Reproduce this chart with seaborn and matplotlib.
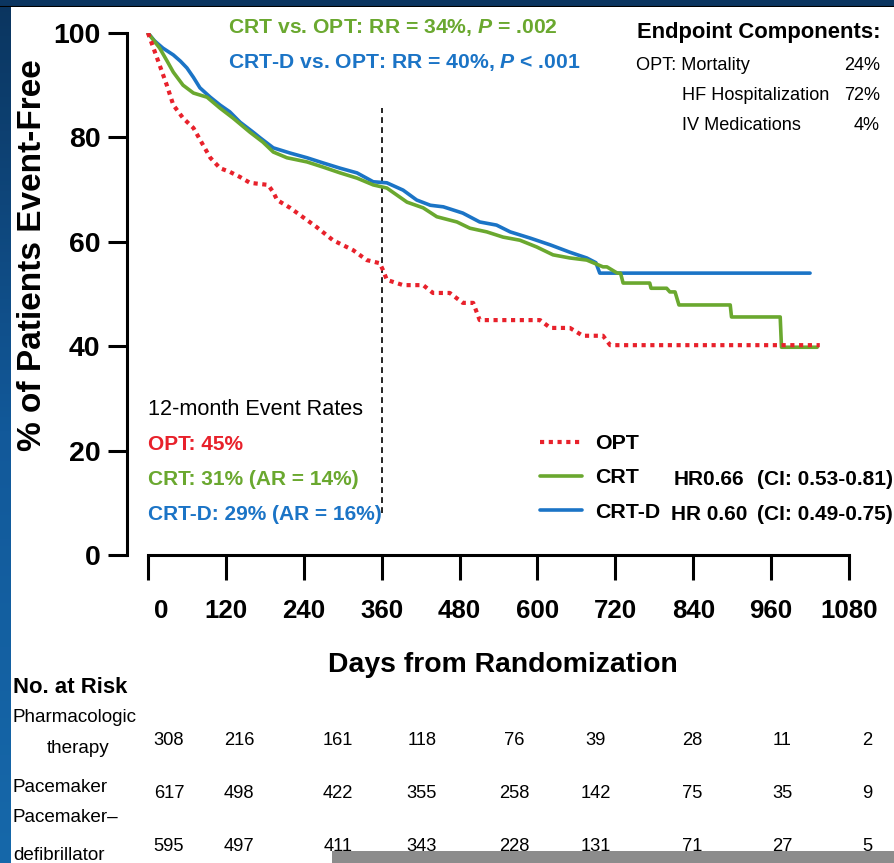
import numpy as np
import pandas as pd
import matplotlib
matplotlib.use("Agg")
import matplotlib.pyplot as plt
import seaborn as sns
from matplotlib.patches import Rectangle
from matplotlib.transforms import ScaledTranslation
from matplotlib.colors import LinearSegmentedColormap

# ---------------- data ----------------
opt_days = [0, 14, 29, 39, 54, 70, 85, 96, 111, 126, 142, 157, 185, 193, 199, 219, 260, 285,
            316, 337, 357, 362, 368, 393, 424, 439, 465, 485, 501, 511, 604, 620, 650, 670,
            701, 712, 1035]
opt_surv = [100, 95.2, 90.0, 86.2, 83.7, 81.8, 78.5, 76.1, 74.1, 73.4, 72.4, 71.3, 70.9, 69.5,
            68.0, 66.5, 62.8, 60.3, 58.4, 56.5, 55.9, 54.6, 52.7, 51.7, 51.7, 50.2, 50.2, 48.3,
            48.3, 45.0, 45.0, 43.5, 43.5, 42.0, 42.0, 40.2, 40.2]

crt_days = [0, 18, 30, 39, 54, 70, 91, 111, 131, 157, 177, 193, 214, 245, 270, 296, 322, 347,
            368, 399, 424, 445, 476, 496, 522, 547, 573, 599, 624, 650, 676, 701, 707, 723,
            728, 732, 773, 775, 799, 804, 812, 818, 897, 899, 974, 976, 1031]
crt_surv = [100, 97.1, 94.5, 92.5, 90.0, 88.5, 87.7, 85.6, 83.7, 81.0, 79.1, 77.2, 76.1, 75.3,
            74.3, 73.2, 72.2, 70.9, 70.3, 67.6, 66.5, 64.8, 63.8, 62.6, 61.9, 60.9, 60.3, 59.0,
            57.5, 56.9, 56.5, 55.2, 55.2, 54.0, 54.0, 52.1, 52.1, 51.1, 51.1, 50.4, 50.4, 47.9,
            47.9, 45.6, 45.6, 39.8, 39.8]

crtd_days = [0, 10, 23, 39, 50, 60, 70, 80, 96, 111, 126, 142, 162, 173, 193, 219, 245, 270,
             296, 322, 347, 368, 393, 414, 435, 455, 485, 511, 537, 558, 589, 620, 650, 676,
             690, 696, 1020]
crtd_surv = [100, 98.5, 97.1, 95.8, 94.6, 93.3, 91.5, 89.5, 87.7, 86.2, 84.9, 82.9, 81.0, 79.9,
             78.0, 77.0, 76.1, 75.1, 74.1, 73.2, 71.5, 71.3, 69.9, 68.0, 67.0, 66.7, 65.5, 63.8,
             63.2, 61.9, 60.7, 59.4, 58.0, 56.9, 56.0, 54.0, 54.0]

x_ticks = [0, 120, 240, 360, 480, 600, 720, 840, 960, 1080]
y_ticks = [0, 20, 40, 60, 80, 100]
landmark_day = 360
landmark_span = (8, 85.6)

risk_labels = ["Pharmacologic", "therapy", "Pacemaker", "Pacemaker–", "defibrillator"]
risk_opt = [308, 216, 161, 118, 76, 39, 28, 11, 2]
risk_crt = [617, 498, 422, 355, 258, 142, 75, 35, 9]
risk_crtd = [595, 497, 411, 343, 228, 131, 71, 27, 5]

series_names = ["OPT", "CRT", "CRT-D"]
hr_text = ["", "HR0.66", "HR 0.60"]
ci_text = ["", "(CI: 0.53-0.81)", "(CI: 0.49-0.75)"]

RED = "#e8212b"
GREEN = "#6aa82f"
BLUE = "#1b74c6"

# ---------------- style ----------------
sns.set_theme(style="ticks")
FONT = ["Liberation Sans", "DejaVu Sans"]
plt.rcParams["font.family"] = FONT
plt.rcParams["mathtext.fontset"] = "custom"
plt.rcParams["mathtext.it"] = "Liberation Sans:italic:bold"
plt.rcParams["mathtext.rm"] = "Liberation Sans:bold"
plt.rcParams["text.color"] = "black"

W, H = 895, 863
fig = plt.figure(figsize=(W / 100, H / 100), dpi=100, facecolor="white")


def fx(x):
    return x / W


def fy(y):
    return 1 - y / H


def ftext(x, y, s, **kw):
    kw.setdefault("va", "baseline")
    return fig.text(fx(x), fy(y), s, **kw)


# axes: y spine at px 127, x=0 at px 148 ; y 0 at px 555, 100 at px 33
ppd = 701 / 1080
xl = (127 - 148) / ppd
xr = 1100
ax = fig.add_axes([fx(127), fy(555), (xr - xl) * ppd / W, 522 / H])
ax.set_xlim(xl, xr)
ax.set_ylim(0, 100)
ax.patch.set_alpha(0)

# curves
df_crtd = pd.DataFrame({"day": crtd_days, "surv": crtd_surv})
df_crt = pd.DataFrame({"day": crt_days, "surv": crt_surv})
df_opt = pd.DataFrame({"day": opt_days, "surv": opt_surv})

sns.lineplot(data=df_crtd, x="day", y="surv", ax=ax, color=BLUE, linewidth=2.6,
             estimator=None, sort=False, errorbar=None, zorder=3)
sns.lineplot(data=df_crt, x="day", y="surv", ax=ax, color=GREEN, linewidth=2.6,
             estimator=None, sort=False, errorbar=None, zorder=4)
sns.lineplot(data=df_opt, x="day", y="surv", ax=ax, color=RED, linewidth=3.0,
             linestyle=(0, (1, 1.1)), estimator=None, sort=False, errorbar=None, zorder=5)
h_crtd, h_crt, h_opt = ax.get_lines()[:3]

ax.vlines(landmark_day, *landmark_span, colors="black", linewidth=1.2,
          linestyles=(0, (3.5, 2.5)), zorder=2)

# axes styling
for s in ["top", "right"]:
    ax.spines[s].set_visible(False)
for s in ["left", "bottom"]:
    ax.spines[s].set_linewidth(2.2)
    ax.spines[s].set_color("black")
ax.spines["left"].set_bounds(0, 100)
ax.spines["bottom"].set_bounds(0, 1080)
ax.set_xticks(x_ticks)
ax.set_xticklabels([str(t) for t in x_ticks], fontsize=18.6, fontweight="bold")
ax.set_yticks(y_ticks)
ax.set_yticklabels([str(t) for t in y_ticks], fontsize=20.5, fontweight="bold")
ax.tick_params(axis="x", length=18, width=2.2, pad=14, direction="out", color="black",
               labelcolor="black", bottom=True)
ax.tick_params(axis="y", length=13.7, width=2.2, pad=5.5, direction="out", color="black",
               labelcolor="black", left=True)
ax.set_xlabel("")
ax.set_ylabel("")
lbl0 = ax.get_xticklabels()[0]
lbl0.set_transform(lbl0.get_transform() + ScaledTranslation(13 / 100, 0, fig.dpi_scale_trans))

# axis titles
fig.text(fx(33), fy(255), "% of Patients Event-Free", rotation=90, ha="center", va="center",
         fontsize=24, fontweight="bold")
ftext(328, 672, "Days from Randomization", fontsize=20.4, fontweight="bold")

# top statistics
ftext(228, 33, r"CRT vs. OPT: RR = 34%, $\mathit{P}$ = .002", fontsize=15.2,
      fontweight="bold", color=GREEN)
ftext(228, 68, r"CRT-D vs. OPT: RR = 40%, $\mathit{P}$ < .001", fontsize=15.2,
      fontweight="bold", color=BLUE)

# endpoint components
ftext(637, 38, "Endpoint Components:", fontsize=15.8, fontweight="bold")
ftext(636, 70, "OPT: Mortality", fontsize=13.1)
ftext(880, 70, "24%", fontsize=13.1, ha="right")
ftext(682, 100, "HF Hospitalization", fontsize=13.1)
ftext(880, 100, "72%", fontsize=13.1, ha="right")
ftext(682, 130, "IV Medications", fontsize=13.1)
ftext(880, 130, "4%", fontsize=13.1, ha="right")

# 12-month event rates
ftext(148, 415, "12-month Event Rates", fontsize=15.6)
ftext(148, 450, "OPT: 45%", fontsize=15, fontweight="bold", color=RED)
ftext(148, 485, "CRT: 31% (AR = 14%)", fontsize=15, fontweight="bold", color=GREEN)
ftext(148, 520, "CRT-D: 29% (AR = 16%)", fontsize=15, fontweight="bold", color=BLUE)

# legend
ax.legend(handles=[h_opt, h_crt, h_crtd], labels=series_names, loc="upper left",
          bbox_to_anchor=(fx(540), fy(434)), bbox_transform=fig.transFigure,
          frameon=False, prop={"weight": "bold", "size": 15.4},
          handlelength=1.96, handletextpad=0.6, labelspacing=0.72, borderpad=0,
          borderaxespad=0)
for yb, hr, ci in zip([450, 485, 520], hr_text, ci_text):
    if hr:
        ftext(674 if hr == "HR0.66" else 671, yb, hr, fontsize=15, fontweight="bold")
        ftext(757, yb, ci, fontsize=15, fontweight="bold")

# number at risk table
ftext(13, 693, "No. at Risk", fontsize=15.9, fontweight="bold")
for (xx, yy), lab in zip([(13, 722), (47, 753), (13, 792), (13, 822), (13, 860)], risk_labels):
    ftext(xx, yy, lab, fontsize=13.6)
col_px = [169, 239, 338, 422, 514, 596, 692, 782, 867]
for row_vals, yb in zip([risk_opt, risk_crt, risk_crtd], [745, 798, 851]):
    for xc, v in zip(col_px, row_vals):
        ftext(xc, yb, str(v), fontsize=13.2, ha="center")

# frame decorations: blue strip left, navy strip top, grey caption bar bottom
grad = np.linspace(0, 1, 256).reshape(-1, 1)
cmap = LinearSegmentedColormap.from_list("bg", ["#0b355f", "#12599a", "#1668aa"])
bax = fig.add_axes([0, 0, 11 / W, 1])
bax.imshow(grad, aspect="auto", cmap=cmap, extent=[0, 1, 0, 1], origin="upper")
bax.set_axis_off()
tax = fig.add_axes([0, fy(7), 1, 7 / H])
tax.set_facecolor("#0b3560")
tax.set_xticks([])
tax.set_yticks([])
for s in tax.spines.values():
    s.set_visible(False)
tax.axhline(0, color="black", linewidth=1.5)
fig.add_artist(Rectangle((fx(332), 0), 1 - fx(332), 12 / H, transform=fig.transFigure,
                         facecolor="#8c8c8c", edgecolor="none", zorder=10))

fig.savefig("out.png", dpi=100, facecolor="white")
